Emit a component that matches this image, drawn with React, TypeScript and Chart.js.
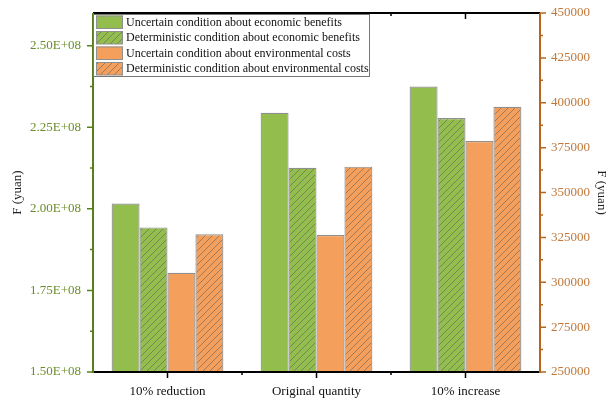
import React, { useEffect, useRef } from "react";
import { Chart, registerables } from "chart.js";

Chart.register(...registerables);

const categories = ["10% reduction", "Original quantity", "10% increase"];
const uncertainBenefits = [2.016e8, 2.294e8, 2.375e8];
const deterministicBenefits = [1.943e8, 2.126e8, 2.278e8];
const uncertainCosts = [305300, 326300, 378700];
const deterministicCosts = [326700, 364400, 397800];
const leftTicks = [1.5e8, 1.75e8, 2.0e8, 2.25e8, 2.5e8];
const rightTicks = [250000, 275000, 300000, 325000, 350000, 375000, 400000, 425000, 450000];
const seriesLabels = [
  "Uncertain condition about economic benefits",
  "Deterministic condition about economic benefits",
  "Uncertain condition about environmental costs",
  "Deterministic condition about environmental costs",
];

const GREEN = "#93bd4d";
const ORANGE = "#f4a05c";
const BORDER = "#8f8f8f";
const LEFT_AXIS = "#55801a";
const LEFT_TEXT = "#6b8e2a";
const RIGHT_AXIS = "#b5651d";
const RIGHT_TEXT = "#c0783a";
const FONT = "'Liberation Serif', 'Times New Roman', serif";

function makeHatch(bg: string): CanvasPattern | string {
  const c = document.createElement("canvas");
  const s = 7;
  c.width = s;
  c.height = s;
  const ctx = c.getContext("2d");
  if (!ctx) return bg;
  ctx.fillStyle = bg;
  ctx.fillRect(0, 0, s, s);
  ctx.strokeStyle = "rgba(90,90,90,0.7)";
  ctx.lineWidth = 0.8;
  ctx.beginPath();
  ctx.moveTo(-1, s + 1);
  ctx.lineTo(s + 1, -1);
  ctx.moveTo(-1, 1);
  ctx.lineTo(1, -1);
  ctx.moveTo(s - 1, s + 1);
  ctx.lineTo(s + 1, s - 1);
  ctx.stroke();
  const p = ctx.createPattern(c, "repeat");
  return p || bg;
}

function zeroPad(s: any) {
  s.paddingTop = 0;
  s.paddingBottom = 0;
  s.paddingLeft = 0;
  s.paddingRight = 0;
}

export default function App() {
  const ref = useRef<HTMLCanvasElement>(null);

  useEffect(() => {
    document.body.style.margin = "0";
    const canvas = ref.current;
    if (!canvas) return;
    const greenHatch = makeHatch(GREEN);
    const orangeHatch = makeHatch(ORANGE);
    const fills = [GREEN, greenHatch, ORANGE, orangeHatch];

    const overlay = {
      id: "overlay",
      afterDraw(chart: any) {
        const ctx = chart.ctx;
        const { left, right, top, bottom } = chart.chartArea;
        const yl = chart.scales.y;
        const yr = chart.scales.y2;
        const x = chart.scales.x;
        ctx.save();
        ctx.strokeStyle = "#000";
        ctx.lineWidth = 2;
        ctx.beginPath();
        ctx.moveTo(left, top);
        ctx.lineTo(right, top);
        ctx.moveTo(left, bottom);
        ctx.lineTo(right, bottom);
        ctx.stroke();
        ctx.lineWidth = 1.5;
        const n = categories.length;
        const step = (right - left) / n;
        ctx.beginPath();
        for (let i = 0; i < n; i++) {
          const cx = x.getPixelForValue(i);
          ctx.moveTo(cx, top);
          ctx.lineTo(cx, top + 6);
          ctx.moveTo(cx, bottom);
          ctx.lineTo(cx, bottom + 6);
        }
        for (let i = 1; i < n; i++) {
          const bx = left + step * i;
          ctx.moveTo(bx, top);
          ctx.lineTo(bx, top + 3);
          ctx.moveTo(bx, bottom);
          ctx.lineTo(bx, bottom + 3);
        }
        ctx.stroke();
        // left axis
        ctx.strokeStyle = LEFT_AXIS;
        ctx.lineWidth = 2;
        ctx.beginPath();
        ctx.moveTo(left, top);
        ctx.lineTo(left, bottom + 1);
        ctx.stroke();
        ctx.lineWidth = 1.5;
        ctx.beginPath();
        for (let i = 0; i < leftTicks.length; i++) {
          const py = yl.getPixelForValue(leftTicks[i]);
          ctx.moveTo(left, py);
          ctx.lineTo(left - 6, py);
          if (i < leftTicks.length - 1) {
            const my = yl.getPixelForValue((leftTicks[i] + leftTicks[i + 1]) / 2);
            ctx.moveTo(left, my);
            ctx.lineTo(left - 3, my);
          }
        }
        ctx.stroke();
        // right axis
        ctx.strokeStyle = RIGHT_AXIS;
        ctx.lineWidth = 2;
        ctx.beginPath();
        ctx.moveTo(right, top);
        ctx.lineTo(right, bottom + 1);
        ctx.stroke();
        ctx.lineWidth = 1.5;
        ctx.beginPath();
        for (let i = 0; i < rightTicks.length; i++) {
          const py = yr.getPixelForValue(rightTicks[i]);
          ctx.moveTo(right, py);
          ctx.lineTo(right + 6, py);
          if (i < rightTicks.length - 1) {
            const my = yr.getPixelForValue((rightTicks[i] + rightTicks[i + 1]) / 2);
            ctx.moveTo(right, my);
            ctx.lineTo(right + 3, my);
          }
        }
        ctx.stroke();
        // axis titles
        ctx.fillStyle = "#222";
        ctx.font = `13px ${FONT}`;
        ctx.textAlign = "center";
        ctx.textBaseline = "middle";
        const midY = (top + bottom) / 2;
        ctx.save();
        ctx.translate(18, midY);
        ctx.rotate(-Math.PI / 2);
        ctx.fillText("F (yuan)", 0, 0);
        ctx.restore();
        ctx.save();
        ctx.translate(601, midY);
        ctx.rotate(Math.PI / 2);
        ctx.fillText("F (yuan)", 0, 0);
        ctx.restore();
        // legend
        const lx = left;
        const ly = top + 1;
        const lw = 276;
        const lh = 62;
        ctx.fillStyle = "#fff";
        ctx.fillRect(lx, ly, lw, lh);
        ctx.strokeStyle = "#777";
        ctx.lineWidth = 1;
        ctx.strokeRect(lx + 0.5, ly + 0.5, lw, lh);
        ctx.font = `12px ${FONT}`;
        ctx.textAlign = "left";
        for (let i = 0; i < seriesLabels.length; i++) {
          const ry = ly + 8 + i * 15.5;
          ctx.fillStyle = fills[i] as any;
          ctx.fillRect(lx + 3, ry - 6.5, 27, 13);
          ctx.strokeStyle = BORDER;
          ctx.lineWidth = 1;
          ctx.strokeRect(lx + 3.5, ry - 6, 26, 12.5);
          ctx.fillStyle = "#111";
          ctx.fillText(seriesLabels[i], lx + 33, ry + 0.5);
        }
        ctx.restore();
      },
    };

    const chart = new Chart(canvas, {
      type: "bar",
      data: {
        labels: categories,
        datasets: [
          { label: seriesLabels[0], data: uncertainBenefits, yAxisID: "y", backgroundColor: fills[0] as any },
          { label: seriesLabels[1], data: deterministicBenefits, yAxisID: "y", backgroundColor: fills[1] as any },
          { label: seriesLabels[2], data: uncertainCosts, yAxisID: "y2", backgroundColor: fills[2] as any },
          { label: seriesLabels[3], data: deterministicCosts, yAxisID: "y2", backgroundColor: fills[3] as any },
        ].map((d) => ({
          ...d,
          borderColor: BORDER,
          borderWidth: 1.2,
          borderSkipped: "bottom",
          categoryPercentage: 0.75,
          barPercentage: 1,
          grouped: true,
        })) as any,
      },
      options: {
        responsive: false,
        animation: false,
        layout: { padding: { top: 13, left: 0, right: 0, bottom: 0 } },
        plugins: { legend: { display: false }, tooltip: { enabled: false } },
        scales: {
          x: {
            grid: { display: false, drawTicks: false },
            border: { display: false },
            ticks: { color: "#111", font: { family: FONT, size: 13 }, padding: 12, maxRotation: 0 },
            afterFit: (s: any) => {
              s.height = 31;
              zeroPad(s);
            },
          },
          y: {
            position: "left",
            min: 1.5e8,
            max: 2.6e8,
            grid: { display: false, drawTicks: false },
            border: { display: false },
            afterBuildTicks: (s: any) => {
              s.ticks = leftTicks.map((v) => ({ value: v }));
            },
            ticks: {
              color: LEFT_TEXT,
              font: { family: FONT, size: 13 },
              padding: 12,
              callback: (v: any) => {
                const num = Number(v) / 1e8;
                return num.toFixed(2) + "E+08";
              },
            },
            afterFit: (s: any) => {
              s.width = 93;
              zeroPad(s);
            },
          },
          y2: {
            position: "right",
            min: 250000,
            max: 450000,
            grid: { display: false, drawTicks: false },
            border: { display: false },
            afterBuildTicks: (s: any) => {
              s.ticks = rightTicks.map((v) => ({ value: v }));
            },
            ticks: {
              color: RIGHT_TEXT,
              font: { family: FONT, size: 13 },
              padding: 11,
              callback: (v: any) => String(v),
            },
            afterFit: (s: any) => {
              s.width = 66;
              zeroPad(s);
            },
          },
        },
      },
      plugins: [overlay],
    });
    return () => chart.destroy();
  }, []);

  return (
    <div style={{ width: 606, height: 403, background: "#fff" }}>
      <canvas ref={ref} width={606} height={403} />
    </div>
  );
}
